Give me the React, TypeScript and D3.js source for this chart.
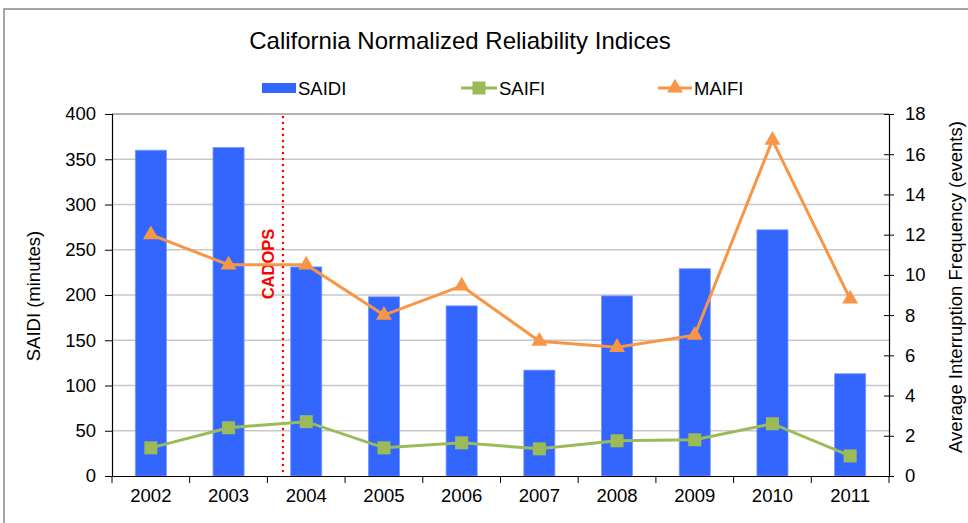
import { useEffect, useRef } from "react";
import * as d3 from "d3";

const years = ["2002", "2003", "2004", "2005", "2006", "2007", "2008", "2009", "2010", "2011"];
const saidi = [360, 363, 231, 198, 188, 117, 199, 229, 272, 113];
const saifi = [1.4, 2.4, 2.7, 1.4, 1.65, 1.35, 1.75, 1.8, 2.6, 1.0];
const maifi = [12.0, 10.5, 10.5, 8.0, 9.45, 6.7, 6.4, 7.0, 16.7, 8.8];
const leftTicks = [0, 50, 100, 150, 200, 250, 300, 350, 400];
const rightTicks = [0, 2, 4, 6, 8, 10, 12, 14, 16, 18];
// CADOPS marker sits between 2003 and 2004, as category index
const cadopsAt = 1.7;

const FONT = "Liberation Sans, Arial, sans-serif";
const FS = "18.5px";

const App = () => {
  const svgRef = useRef<SVGSVGElement | null>(null);

  useEffect(() => {
    const svg = d3.select(svgRef.current);
    svg.selectAll("*").remove();

    const width = 968;
    const height = 523;
    const margin = { top: 114, right: 79, bottom: 47, left: 112 };
    const innerW = width - margin.left - margin.right;
    const innerH = height - margin.top - margin.bottom;

    svg.attr("width", width).attr("height", height).style("font-family", FONT);

    svg.append("rect")
      .attr("x", 4).attr("y", 9)
      .attr("width", 980).attr("height", 530)
      .attr("fill", "white")
      .attr("stroke", "#888").attr("stroke-width", 1.5);

    svg.append("text")
      .attr("x", 460).attr("y", 49)
      .attr("text-anchor", "middle")
      .style("font-size", "24px")
      .text("California Normalized Reliability Indices");

    const g = svg.append("g").attr("transform", `translate(${margin.left},${margin.top})`);

    const x = d3.scaleBand().domain(years).range([0, innerW]).paddingInner(0.6).paddingOuter(0.3);
    const xIdx = d3.scaleLinear().domain([0, 1]).range([x(years[0])! + x.bandwidth() / 2, x(years[1])! + x.bandwidth() / 2]);
    const yL = d3.scaleLinear().domain([0, 400]).range([innerH, 0]);
    const yR = d3.scaleLinear().domain([0, 18]).range([innerH, 0]);

    // gridlines
    g.selectAll("line.grid")
      .data(leftTicks.slice(1))
      .enter()
      .append("line")
      .attr("x1", 0).attr("x2", innerW)
      .attr("y1", (d) => yL(d)).attr("y2", (d) => yL(d))
      .attr("stroke", (d) => (d === 400 ? "#999" : "#c8c8c8"))
      .attr("stroke-width", 1.5);

    // bars
    g.selectAll("rect.bar")
      .data(saidi)
      .enter()
      .append("rect")
      .attr("x", (_, i) => x(years[i])!)
      .attr("y", (d) => yL(d))
      .attr("width", x.bandwidth())
      .attr("height", (d) => innerH - yL(d))
      .attr("fill", "#3366ff")
      .attr("stroke", "#7799ff")
      .attr("stroke-width", 0.8);

    // CADOPS
    const cx = xIdx(cadopsAt);
    g.append("line")
      .attr("x1", cx).attr("x2", cx)
      .attr("y1", 3).attr("y2", innerH)
      .attr("stroke", "#ff0000")
      .attr("stroke-width", 2.5)
      .attr("stroke-linecap", "round")
      .attr("stroke-dasharray", "0,6");
    g.append("text")
      .attr("transform", `translate(${cx - 9},${264 - margin.top}) rotate(-90)`)
      .attr("text-anchor", "middle")
      .style("font-size", "16.5px")
      .style("font-weight", "bold")
      .attr("fill", "#ff0000")
      .text("CADOPS");

    const cxOf = (i: number) => x(years[i])! + x.bandwidth() / 2;

    // SAIFI line
    const saifiLine = d3.line<number>().x((_, i) => cxOf(i)).y((d) => yR(d));
    g.append("path")
      .datum(saifi)
      .attr("fill", "none")
      .attr("stroke", "#9bbb59")
      .attr("stroke-width", 3)
      .attr("d", saifiLine);
    g.selectAll("rect.saifi")
      .data(saifi)
      .enter()
      .append("rect")
      .attr("x", (_, i) => cxOf(i) - 6.5)
      .attr("y", (d) => yR(d) - 6.5)
      .attr("width", 13).attr("height", 13)
      .attr("fill", "#9bbb59");

    // MAIFI line
    const maifiLine = d3.line<number>().x((_, i) => cxOf(i)).y((d) => yR(d));
    g.append("path")
      .datum(maifi)
      .attr("fill", "none")
      .attr("stroke", "#f79646")
      .attr("stroke-width", 3)
      .attr("d", maifiLine);
    const tri = d3.symbol().type(d3.symbolTriangle).size(110);
    g.selectAll("path.maifi")
      .data(maifi)
      .enter()
      .append("path")
      .attr("transform", (d, i) => `translate(${cxOf(i)},${yR(d)})`)
      .attr("d", tri)
      .attr("fill", "#f79646");

    // axes
    const axL = g.append("g")
      .call(d3.axisLeft(yL).tickValues(leftTicks).tickSize(7).tickPadding(9));
    const axR = g.append("g")
      .attr("transform", `translate(${innerW},0)`)
      .call(d3.axisRight(yR).tickValues(rightTicks).tickSize(5).tickPadding(11));
    axR.selectAll(".tick line").attr("x1", -5);
    const axB = g.append("g")
      .attr("transform", `translate(0,${innerH})`)
      .call(d3.axisBottom(x).tickSize(0).tickPadding(13));
    // category boundary ticks
    axB.selectAll("line.sep")
      .data(d3.range(years.length + 1))
      .enter()
      .append("line")
      .attr("x1", (d) => (d * innerW) / years.length)
      .attr("x2", (d) => (d * innerW) / years.length)
      .attr("y1", 0).attr("y2", 7)
      .attr("stroke", "#000");

    [axL, axR, axB].forEach((a) => {
      a.selectAll("text").style("font-size", FS).style("font-family", FONT).attr("fill", "#000");
      a.select(".domain").attr("stroke", "#000").attr("stroke-width", 1.2);
    });

    svg.append("text")
      .attr("transform", `translate(40,296) rotate(-90)`)
      .attr("text-anchor", "middle")
      .style("font-size", FS)
      .text("SAIDI (minutes)");
    svg.append("text")
      .attr("transform", `translate(962,287) rotate(-90)`)
      .attr("text-anchor", "middle")
      .style("font-size", FS)
      .text("Average Interruption Frequency (events)");

    // legend
    const lg = svg.append("g").attr("transform", "translate(0,88)");
    lg.append("rect").attr("x", 262).attr("y", -5).attr("width", 34).attr("height", 10).attr("fill", "#3366ff");
    lg.append("text").attr("x", 298).attr("y", 7).style("font-size", FS).text("SAIDI");

    lg.append("line").attr("x1", 461).attr("x2", 497).attr("y1", 0).attr("y2", 0)
      .attr("stroke", "#9bbb59").attr("stroke-width", 3);
    lg.append("rect").attr("x", 472.5).attr("y", -6.5).attr("width", 13).attr("height", 13).attr("fill", "#9bbb59");
    lg.append("text").attr("x", 499).attr("y", 7).style("font-size", FS).text("SAIFI");

    lg.append("line").attr("x1", 658).attr("x2", 692).attr("y1", 0).attr("y2", 0)
      .attr("stroke", "#f79646").attr("stroke-width", 3);
    lg.append("path").attr("transform", "translate(675,0)").attr("d", tri).attr("fill", "#f79646");
    lg.append("text").attr("x", 694).attr("y", 7).style("font-size", FS).text("MAIFI");
  }, []);

  return (
    <svg ref={svgRef} style={{ position: "absolute", left: 0, top: 0 }} />
  );
};

export default App;
